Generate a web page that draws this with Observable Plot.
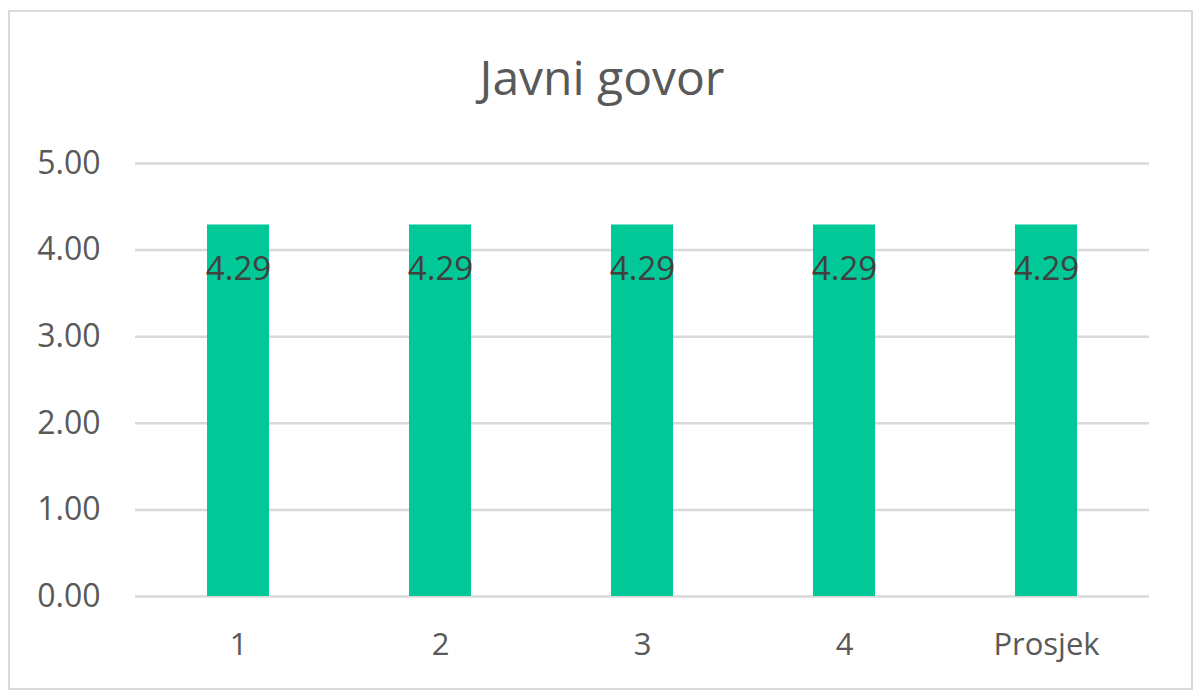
<!DOCTYPE html>
<html>
<head>
<meta charset="utf-8">
<script src="https://cdn.jsdelivr.net/npm/d3@7"></script>
<script src="https://cdn.jsdelivr.net/npm/@observablehq/plot@0.6"></script>
<style>
  html, body { margin: 0; padding: 0; background: #fff; }
  #wrap { position: relative; width: 1197px; height: 691px; overflow: hidden; font-family: "Open Sans", sans-serif; }
  #frame { position: absolute; left: 8px; top: 10px; width: 1181px; height: 676px; border: 2px solid #d9d9d9; box-sizing: content-box; }
  #title { position: absolute; left: 0; width: 1204px; top: 46px; text-align: center; font-size: 48px; color: #595959; line-height: 62px; }
  #chart { position: absolute; left: 0; top: 0; }
</style>
</head>
<body>
<div id="wrap">
  <div id="frame"></div>
  <div id="title">Javni govor</div>
  <div id="chart"></div>
</div>
<script>
const categories = ["1", "2", "3", "4", "Prosjek"];
const values = [4.29, 4.29, 4.29, 4.29, 4.29];
const yTicks = [0, 1, 2, 3, 4, 5];

const data = categories.map((c, i) => ({category: c, value: values[i]}));

const chart = Plot.plot({
  width: 1197,
  height: 691,
  marginLeft: 135,
  marginRight: 48,
  marginTop: 163,
  marginBottom: 95,
  style: {fontFamily: "'Open Sans', sans-serif", fontSize: "32px", color: "#595959", background: "transparent"},
  x: {domain: categories, paddingInner: 0.694, paddingOuter: 0.347, label: null},
  y: {domain: [0, 5], label: null},
  marks: [
    Plot.ruleY(yTicks, {stroke: "#d9d9d9", strokeWidth: 2.5}),
    Plot.barY(data, {x: "category", y: "value", fill: "#00C896"}),
    Plot.text(data, {x: "category", y: "value", text: d => d.value.toFixed(2), dy: 44, fill: "#404040", fontSize: 33}),
    Plot.axisY(yTicks, {tickSize: 0, tickPadding: 35, tickFormat: d => d.toFixed(2), fill: "#595959", fontSize: 32}),
    Plot.axisX({tickSize: 0, tickPadding: 36, fill: "#595959", fontSize: 31})
  ]
});
document.getElementById("chart").appendChild(chart);
</script>
</body>
</html>
